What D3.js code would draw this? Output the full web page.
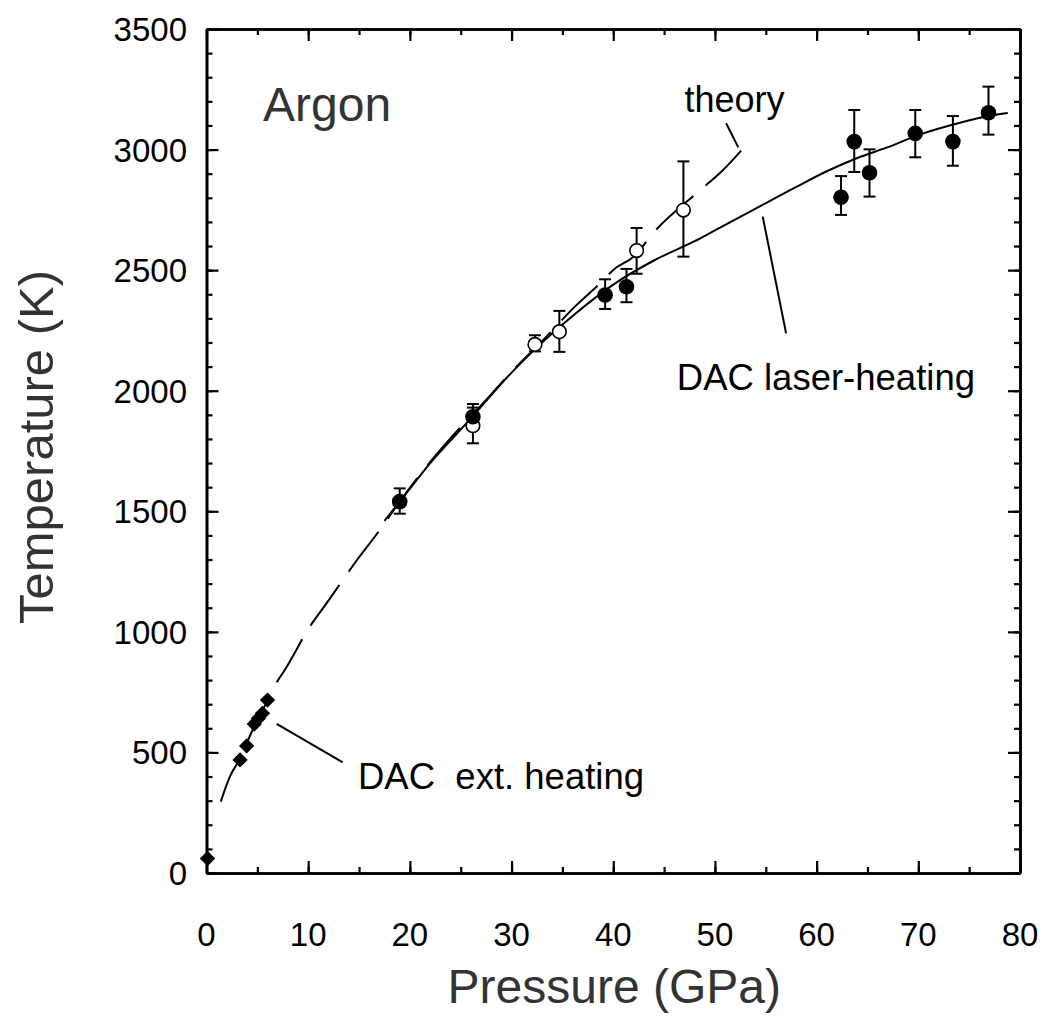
<!DOCTYPE html>
<html>
<head>
<meta charset="utf-8">
<script src="https://cdn.jsdelivr.net/npm/d3@7"></script>
<style>
  body { margin: 0; background: #fff; }
  text { font-family: "Liberation Sans", Arial, sans-serif; }
</style>
</head>
<body>
<svg id="chart" width="1042" height="1026"></svg>
<script>
// laser-heating melting points (filled circles): pressure, temperature, error low/high
const laserP = [19.0, 26.2, 39.2, 41.3, 62.4, 63.7, 65.2, 69.7, 73.4, 76.9];
const laserT = [1540, 1892, 2397, 2431, 2802, 3033, 2904, 3067, 3033, 3153];
const laserLo = [1490, 1840, 2339, 2367, 2729, 2907, 2805, 2968, 2933, 3062];
const laserHi = [1595, 1945, 2462, 2505, 2890, 3164, 3001, 3164, 3139, 3261];

// open circles
const openP = [26.2, 32.3, 34.7, 42.3, 46.9];
const openT = [1855, 2192, 2245, 2581, 2749];
const openLo = [1782, 2163, 2161, 2485, 2556];
const openHi = [1930, 2230, 2331, 2675, 2951];

// external heating (diamonds)
const extP = [0.1, 3.3, 3.95, 4.7, 5.1, 5.5, 6.0];
const extT = [60, 469, 527, 618, 641, 662, 717];

// theory curve (dashed)
const theoryP = [1.4, 2.3, 3.3, 4.5, 6.0, 6.9, 7.7, 10.2, 11.8, 14.8, 17, 19, 22, 25, 27.2, 30.5, 32.8, 36.4, 38.7, 40, 42, 44.2, 48.2, 50.8, 52.9];
const theoryT = [296, 400, 475, 590, 715, 790, 842, 1024, 1118, 1298, 1420, 1540, 1705, 1850, 1948, 2100, 2197, 2356, 2445, 2501, 2556, 2667, 2819, 2915, 3011];

// fit through laser-heating data (solid)
const fitP = [17.5, 19, 22, 26, 29, 32, 36, 40, 44, 48, 50, 54, 58, 61, 64, 67, 70, 74, 77, 78.8];
const fitT = [1460, 1540, 1700, 1885, 2030, 2160, 2310, 2440, 2540, 2620, 2665, 2755, 2845, 2910, 2965, 3010, 3060, 3110, 3140, 3152];

const xTicks = [0, 10, 20, 30, 40, 50, 60, 70, 80];
const yTicks = [0, 500, 1000, 1500, 2000, 2500, 3000, 3500];

const svg = d3.select('#chart');
const box = { left: 206.5, right: 1020, top: 29, bottom: 873 };

const x = d3.scaleLinear().domain([0, 80]).range([box.left, box.right]);
const y = d3.scaleLinear().domain([0, 3500]).range([box.bottom, box.top]);

// axes: ticks pointing inward on all four sides
function frame() {
  const g = svg.append('g').attr('class', 'axes');
  const major = 12, minor = 6;
  const axisDefs = [
    { axis: () => d3.axisTop(x), t: `translate(0,${box.bottom})`, ticks: xTicks, minorTicks: d3.range(0, 81, 5) },
    { axis: () => d3.axisBottom(x), t: `translate(0,${box.top})`, ticks: xTicks, minorTicks: d3.range(0, 81, 5) },
    { axis: () => d3.axisRight(y), t: `translate(${box.left},0)`, ticks: yTicks, minorTicks: d3.range(0, 3501, 100) },
    { axis: () => d3.axisLeft(y), t: `translate(${box.right},0)`, ticks: yTicks, minorTicks: d3.range(0, 3501, 100) }
  ];
  axisDefs.forEach(d => {
    g.append('g').attr('transform', d.t)
      .call(d.axis().tickValues(d.minorTicks).tickSize(minor).tickFormat('').tickSizeOuter(0));
    g.append('g').attr('transform', d.t)
      .call(d.axis().tickValues(d.ticks).tickSize(major).tickFormat('').tickSizeOuter(0));
  });
  g.selectAll('path.domain').attr('stroke', '#000').attr('stroke-width', 2.6);
  g.selectAll('.tick line').attr('stroke', '#000').attr('stroke-width', 2.2);

  // tick labels
  svg.append('g').selectAll('text').data(xTicks).join('text')
    .attr('x', d => x(d)).attr('y', 946)
    .attr('text-anchor', 'middle').attr('font-size', 33).text(d => d);
  svg.append('g').selectAll('text').data(yTicks).join('text')
    .attr('x', 187).attr('y', d => y(d) + 12)
    .attr('text-anchor', 'end').attr('font-size', 33).text(d => d);
}
frame();

// axis titles
svg.append('text').attr('x', (box.left + box.right) / 2 + 1).attr('y', 1003)
  .attr('text-anchor', 'middle').attr('font-size', 48).attr('fill', '#333')
  .text('Pressure (GPa)');
svg.append('text').attr('transform', `translate(53,${(box.top + box.bottom) / 2 - 4}) rotate(-90)`)
  .attr('text-anchor', 'middle').attr('font-size', 49).attr('fill', '#333')
  .text('Temperature (K)');

const line = d3.line().x(d => x(d[0])).y(d => y(d[1])).curve(d3.curveMonotoneX);

// theory (dashed)
svg.append('path').datum(d3.zip(theoryP, theoryT))
  .attr('d', line).attr('fill', 'none').attr('stroke', '#000')
  .attr('stroke-width', 2).attr('stroke-dasharray', '50,16');

// fit (solid)
svg.append('path').datum(d3.zip(fitP, fitT))
  .attr('d', line).attr('fill', 'none').attr('stroke', '#000').attr('stroke-width', 2);

// error bars
function errorBars(P, lo, hi) {
  const g = svg.append('g').attr('stroke', '#000').attr('stroke-width', 2);
  const data = d3.zip(P, lo, hi);
  g.selectAll('line.v').data(data).join('line').attr('class', 'v')
    .attr('x1', d => x(d[0])).attr('x2', d => x(d[0]))
    .attr('y1', d => y(d[1])).attr('y2', d => y(d[2]));
  g.selectAll('line.lo').data(data).join('line').attr('class', 'lo')
    .attr('x1', d => x(d[0]) - 6).attr('x2', d => x(d[0]) + 6)
    .attr('y1', d => y(d[1])).attr('y2', d => y(d[1]));
  g.selectAll('line.hi').data(data).join('line').attr('class', 'hi')
    .attr('x1', d => x(d[0]) - 6).attr('x2', d => x(d[0]) + 6)
    .attr('y1', d => y(d[2])).attr('y2', d => y(d[2]));
}
errorBars(openP, openLo, openHi);
errorBars(laserP, laserLo, laserHi);

svg.append('g').selectAll('circle').data(d3.zip(openP, openT)).join('circle')
  .attr('cx', d => x(d[0])).attr('cy', d => y(d[1])).attr('r', 6.8)
  .attr('fill', '#fff').attr('stroke', '#000').attr('stroke-width', 1.6);

svg.append('g').selectAll('circle').data(d3.zip(laserP, laserT)).join('circle')
  .attr('cx', d => x(d[0])).attr('cy', d => y(d[1])).attr('r', 7.8).attr('fill', '#000');

svg.append('g').selectAll('path').data(d3.zip(extP, extT)).join('path')
  .attr('transform', d => `translate(${x(d[0])},${y(d[1])})`)
  .attr('d', d3.symbol(d3.symbolDiamond2, 150)).attr('fill', '#000');

// annotations
const leaders = [
  [[51.1, 3109], [52.3, 3009]],
  [[54.7, 2722], [57.0, 2238]],
  [[6.9, 618], [13.4, 459]]
];
svg.append('g').selectAll('line').data(leaders).join('line')
  .attr('x1', d => x(d[0][0])).attr('y1', d => y(d[0][1]))
  .attr('x2', d => x(d[1][0])).attr('y2', d => y(d[1][1]))
  .attr('stroke', '#000').attr('stroke-width', 2);

svg.append('text').attr('x', x(5.56)).attr('y', y(3118))
  .attr('font-size', 48).attr('fill', '#333').text('Argon');
svg.append('text').attr('x', x(47.0)).attr('y', y(3157))
  .attr('font-size', 36).text('theory');
svg.append('text').attr('x', x(46.25)).attr('y', y(2003))
  .attr('font-size', 36.5).text('DAC laser-heating');
svg.append('text').attr('x', x(14.9)).attr('y', y(348))
  .attr('font-size', 36.5).style('white-space', 'pre')
  .text('DAC  ext. heating');
</script>
</body>
</html>
